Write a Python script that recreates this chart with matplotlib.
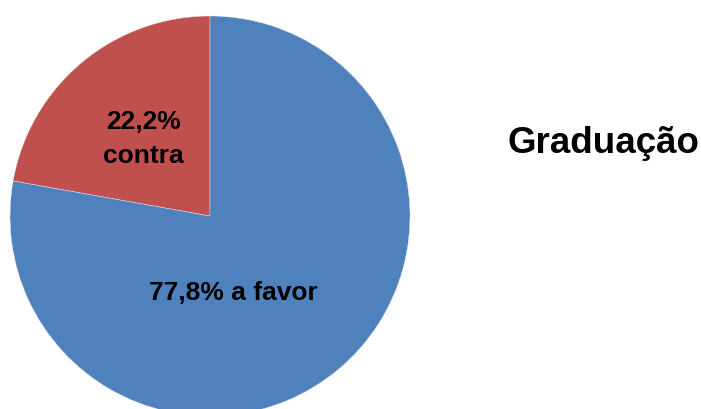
import matplotlib
matplotlib.use('Agg')
import matplotlib.pyplot as plt

categorias = ['contra', 'a favor']
valores = [22.2, 77.8]
cores = ['#C0504D', '#4F81BD']
titulo = 'Graduação'

plt.rcParams['font.family'] = ['Liberation Sans', 'DejaVu Sans']

fig = plt.figure(figsize=(7.01, 4.10), dpi=100)
ax = fig.add_axes([0, 0, 1, 1])

# pie in pixel-like data coords (y up)
ax.pie(valores, colors=cores, startangle=90, counterclock=True,
       center=(210, 193), radius=200,
       wedgeprops=dict(edgecolor='#E8E8F0', linewidth=0.3))
ax.set_xlim(0, 701)
ax.set_ylim(0, 410)
ax.set_aspect('equal')
ax.axis('off')

ax.text(143, 281, '{:.1f}%'.format(valores[0]).replace('.', ','),
        ha='center', va='baseline', fontsize=19, fontweight='bold')
ax.text(143, 247, categorias[0],
        ha='center', va='baseline', fontsize=19, fontweight='bold')
ax.text(233, 110, '{:.1f}% {}'.format(valores[1], categorias[1]).replace('.', ','),
        ha='center', va='baseline', fontsize=19, fontweight='bold')

ax.text(603, 257, titulo, ha='center', va='baseline', fontsize=26.5, fontweight='bold')

fig.savefig('out.png', dpi=100)
